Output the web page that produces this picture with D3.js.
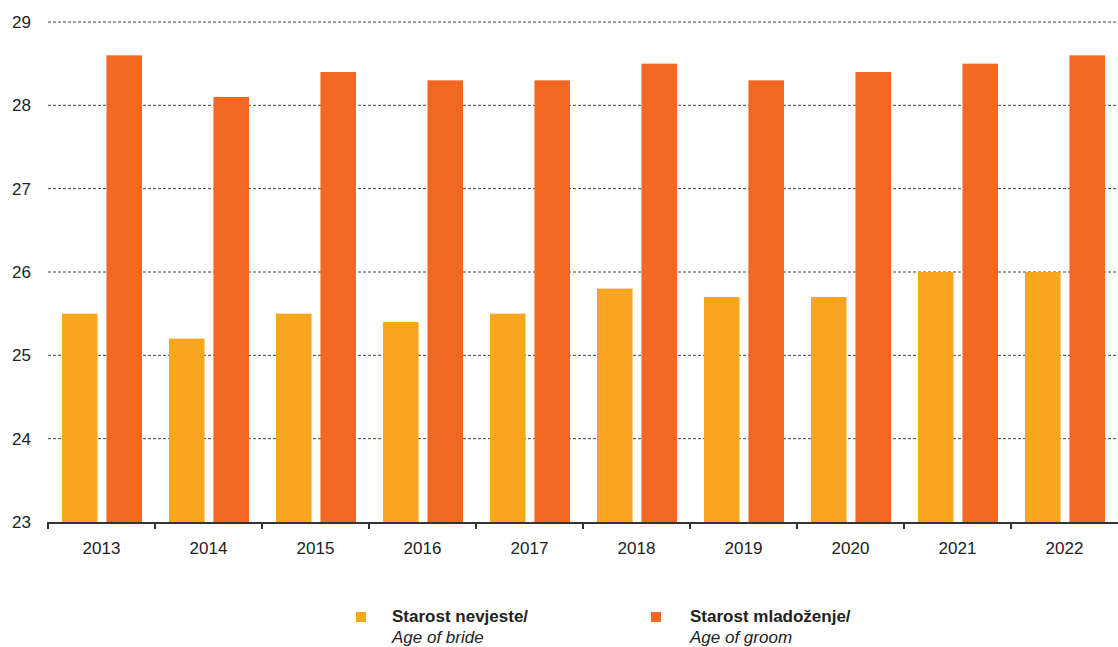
<!DOCTYPE html>
<html><head><meta charset="utf-8">
<script src="https://cdn.jsdelivr.net/npm/d3@7"></script>
<style>body{margin:0;background:#fff;}svg{display:block;font-family:"Liberation Sans",Arial,sans-serif;}</style>
</head><body>
<svg id="c" width="1118" height="647"></svg>
<script>
const years = ["2013","2014","2015","2016","2017","2018","2019","2020","2021","2022"];
const bride = [25.5,25.2,25.5,25.4,25.5,25.8,25.7,25.7,26.0,26.0];
const groom = [28.6,28.1,28.4,28.3,28.3,28.5,28.3,28.4,28.5,28.6];
const yTicks = [23,24,25,26,27,28,29];
const seriesNames = ["bride","groom"];
const colors = {bride:"#F8A51F", groom:"#F26722"};
const legendBold = ["Starost nevjeste/","Starost mladoženje/"];
const legendItalic = ["Age of bride","Age of groom"];

const svg = d3.select("#c");
const L = 48, R = 1118, T = 22, B = 522;
const x0 = d3.scaleBand().domain(years).range([L, R]).padding(0);
const x1 = d3.scaleBand().domain(seriesNames).range([14, 94]).paddingInner(0.2);
const y = d3.scaleLinear().domain([23,29]).range([B, T]);

// gridlines
svg.append("g").selectAll("line").data(yTicks.filter(d=>d>23)).join("line")
  .attr("x1", L).attr("x2", R).attr("y1", d=>y(d)).attr("y2", d=>y(d))
  .attr("stroke","#444").attr("stroke-width",1).attr("stroke-dasharray","3,2");

// y labels
svg.append("g").selectAll("text").data(yTicks).join("text")
  .attr("x", 31).attr("y", d=>y(d)).attr("dy","0.35em").attr("text-anchor","end")
  .attr("font-size",17).attr("fill","#222").text(d=>d);

// bars
const data = years.map((yr,i)=>({yr, vals:[{k:"bride",v:bride[i]},{k:"groom",v:groom[i]}]}));
const g = svg.append("g").selectAll("g").data(data).join("g")
  .attr("transform", d=>`translate(${x0(d.yr)},0)`);
g.selectAll("rect").data(d=>d.vals).join("rect")
  .attr("x", d=>x1(d.k)).attr("width", x1.bandwidth())
  .attr("y", d=>y(d.v)).attr("height", d=>B - y(d.v))
  .attr("fill", d=>colors[d.k]);

// x axis
const ax = svg.append("g");
ax.append("line").attr("x1",L).attr("x2",R).attr("y1",B+1).attr("y2",B+1).attr("stroke","#333").attr("stroke-width",2);
const bounds = years.map(d=>x0(d));
ax.selectAll("line.t").data(bounds).join("line").attr("class","t")
  .attr("x1",d=>d).attr("x2",d=>d).attr("y1",B).attr("y2",B+7).attr("stroke","#333").attr("stroke-width",2);
ax.selectAll("text").data(years).join("text")
  .attr("x", d=>x0(d)+x0.bandwidth()/2).attr("y", 554).attr("text-anchor","middle")
  .attr("font-size",17).attr("fill","#222").text(d=>d);

// legend
const lx = [356, 651];
const tx = [36, 39];
const lg = svg.append("g").selectAll("g").data(seriesNames).join("g")
  .attr("transform",(d,i)=>`translate(${lx[i]},0)`);
lg.append("rect").attr("x",0).attr("y",612).attr("width",10).attr("height",10).attr("fill",d=>colors[d]);
lg.append("text").attr("x",(d,i)=>tx[i]).attr("y",622).attr("font-size",17).attr("font-weight","bold").attr("fill","#222")
  .text((d,i)=>legendBold[i]);
lg.append("text").attr("x",(d,i)=>tx[i]).attr("y",643).attr("font-size",17).attr("font-style","italic").attr("fill","#222")
  .text((d,i)=>legendItalic[i]);
</script>
</body></html>
